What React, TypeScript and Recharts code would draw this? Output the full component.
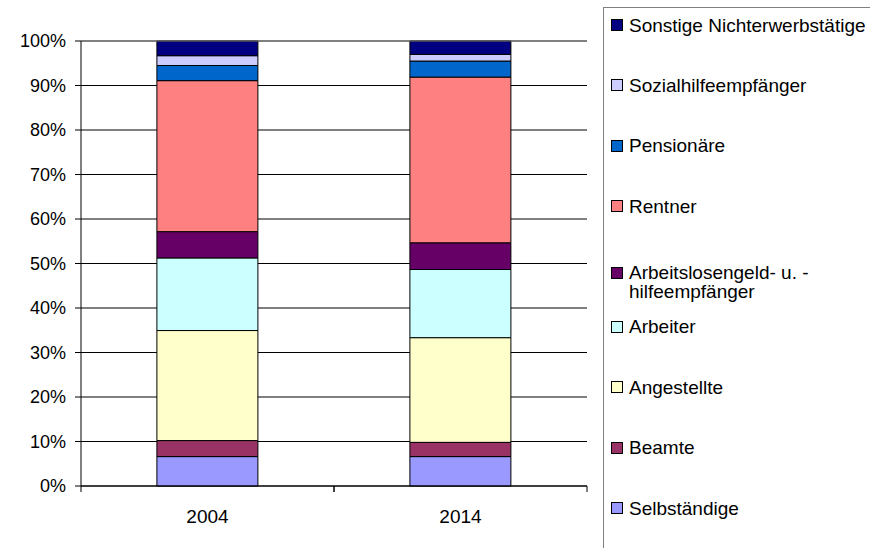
import { BarChart, Bar, XAxis, YAxis, CartesianGrid, ReferenceLine } from 'recharts';

const years = ['2004', '2014'];
const selbstaendige = [6.6, 6.6];
const beamte = [3.6, 3.2];
const angestellte = [24.7, 23.5];
const arbeiter = [16.3, 15.3];
const arbeitslose = [5.9, 6.0];
const rentner = [33.9, 37.2];
const pensionaere = [3.4, 3.6];
const sozialhilfe = [2.2, 1.5];
const sonstige = [3.3, 3.0];
const yTicks = [0, 0.1, 0.2, 0.3, 0.4, 0.5, 0.6, 0.7, 0.8, 0.9, 1];

// stacking order, bottom to top
const series = [
  { key: 'selb', name: 'Selbständige', color: '#9999FF', values: selbstaendige },
  { key: 'beam', name: 'Beamte', color: '#993366', values: beamte },
  { key: 'ang', name: 'Angestellte', color: '#FFFFCC', values: angestellte },
  { key: 'arb', name: 'Arbeiter', color: '#CCFFFF', values: arbeiter },
  { key: 'alo', name: 'Arbeitslosengeld- u. - hilfeempfänger', color: '#660066', values: arbeitslose },
  { key: 'rent', name: 'Rentner', color: '#FF8080', values: rentner },
  { key: 'pens', name: 'Pensionäre', color: '#0066CC', values: pensionaere },
  { key: 'soz', name: 'Sozialhilfeempfänger', color: '#CCCCFF', values: sozialhilfe },
  { key: 'sonst', name: 'Sonstige Nichterwerbstätige', color: '#000080', values: sonstige },
];

const data = years.map((year, i) => {
  const row: Record<string, string | number> = { year };
  series.forEach((s) => { row[s.key] = s.values[i]; });
  return row;
});

const font = '"Liberation Sans", Arial, sans-serif';

function XTick(props: any) {
  const { x, y, payload } = props;
  const off = payload.offset ?? 0;
  return (
    <g>
      <line x1={x - off} x2={x - off} y1={y} y2={y + 6} stroke="#000" />
      <line x1={x + off} x2={x + off} y1={y} y2={y + 6} stroke="#000" />
      <text x={x} y={y + 37} textAnchor="middle" fontSize={19} fill="#000" fontFamily={font}>
        {payload.value}
      </text>
    </g>
  );
}

function LegendBox() {
  const items = [...series].reverse();
  return (
    <div
      style={{
        position: 'absolute', left: 603, top: 7, width: 300, height: 560,
        border: '1px solid #808080', paddingTop: 7.5, boxSizing: 'border-box',
        fontFamily: font, fontSize: 19, lineHeight: '19px', color: '#000',
      }}
    >
      {items.map((s) => (
        <div
          key={s.key}
          style={{
            display: 'flex', alignItems: 'flex-start', height: 60.4, paddingLeft: 7,
            paddingTop: s.key === 'alo' ? 6 : 0, boxSizing: 'border-box',
          }}
        >
          <div
            style={{
              width: 12, height: 12, marginTop: 3.5, background: s.color,
              border: '1px solid #000', boxSizing: 'border-box', flexShrink: 0,
            }}
          />
          <div style={{ marginLeft: 6, width: 250 }}>{s.name}</div>
        </div>
      ))}
    </div>
  );
}

export default function App() {
  return (
    <div style={{ position: 'absolute', left: 0, top: 0, width: 870, height: 548, overflow: 'hidden', background: '#fff' }}>
      <BarChart
        width={870}
        height={548}
        data={data}
        stackOffset="expand"
        barCategoryGap="30%"
        margin={{ top: 41, right: 283, bottom: 0, left: 0 }}
      >
        <CartesianGrid vertical={false} stroke="#000" />
        <XAxis
          dataKey="year"
          height={62}
          axisLine={{ stroke: '#000' }}
          tickLine={false}
          tickSize={0}
          tickMargin={0}
          tick={<XTick />}
        />
        <YAxis
          width={81}
          domain={[0, 1]}
          ticks={yTicks}
          tickFormatter={(v: number) => `${Math.round(v * 100)}%`}
          axisLine={{ stroke: '#000' }}
          tickLine={{ stroke: '#000' }}
          tickSize={6}
          tickMargin={9}
          tick={{ fill: '#000', fontSize: 18, fontFamily: font }}
        />
        <YAxis yAxisId="r" orientation="right" width={0} domain={[0, 1]} tick={false} tickLine={false} axisLine={{ stroke: '#808080' }} />
        <ReferenceLine y={1} stroke="#808080" />
        {series.map((s) => (
          <Bar
            key={s.key}
            dataKey={s.key}
            name={s.name}
            stackId="a"
            fill={s.color}
            stroke="#000"
            strokeWidth={1}
            isAnimationActive={false}
          />
        ))}
      </BarChart>
      <LegendBox />
    </div>
  );
}
